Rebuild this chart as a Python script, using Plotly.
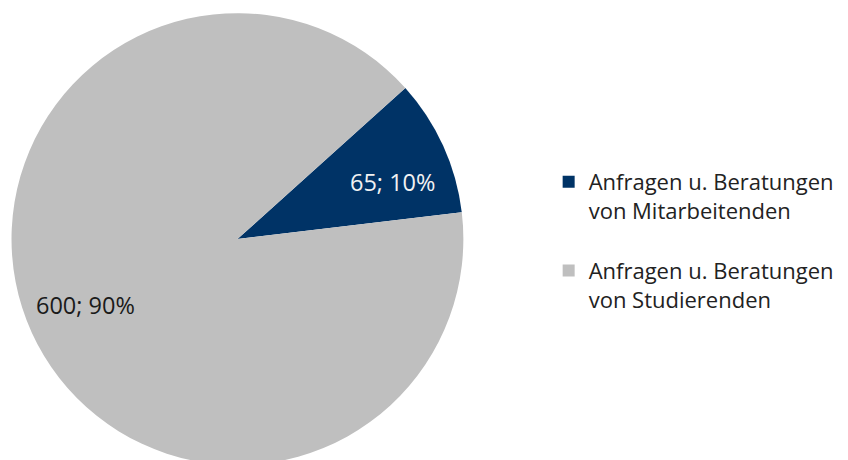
import math
import plotly.graph_objects as go

labels = ["Anfragen u. Beratungen<br>von Mitarbeitenden<br> ", "Anfragen u. Beratungen<br>von Studierenden<br> "]
values = [65, 600]
colors = ["#003366", "#BFBFBF"]
text_colors = ["#F2F2F2", "#1A1A1A"]

FONT = "Open Sans"
W, H = 848, 470
ROT = 48
DOM_X = [0, 0.56]
DOM_Y = [0.0106, 0.972]
LABEL_R = [0.73, 0.735]      # label distance as fraction of radius
LABEL_DANG = [4.0, 1.0]      # angular nudge (deg) from slice bisector

fig = go.Figure(go.Pie(
    labels=labels,
    values=values,
    sort=False,
    direction="clockwise",
    rotation=ROT,
    marker=dict(colors=colors, line=dict(width=0)),
    textinfo="none",
    hoverinfo="value+percent",
    domain=dict(x=DOM_X, y=DOM_Y),
))

total = sum(values)
dw = (DOM_X[1] - DOM_X[0]) * W
dh = (DOM_Y[1] - DOM_Y[0]) * H
r = min(dw, dh) / 2
cx = (DOM_X[0] * W) + dw / 2
cy = (1 - DOM_Y[1]) * H + dh / 2
start = ROT
for i, v in enumerate(values):
    span = 360 * v / total
    mid = math.radians(start + span / 2 + LABEL_DANG[i])
    start += span
    px = cx + LABEL_R[i] * r * math.sin(mid)
    py = cy - LABEL_R[i] * r * math.cos(mid)
    fig.add_annotation(
        x=px / W, y=1 - py / H, xref="paper", yref="paper",
        text=f"{v}; {round(100 * v / total)}%",
        showarrow=False, xanchor="center", yanchor="middle",
        font=dict(family=FONT, size=23.5, color=text_colors[i]),
    )

fig.update_layout(
    width=W, height=H,
    margin=dict(l=0, r=0, t=0, b=0),
    paper_bgcolor="white", plot_bgcolor="white",
    font=dict(family=FONT, size=22, color="#222222"),
    legend=dict(x=0.647, y=1 - 161 / H, xanchor="left", yanchor="top",
                valign="top",
                font=dict(family=FONT, size=22, color="#222222")),
    showlegend=True,
)

fig.write_html("out.html", config={"displayModeBar": False},
               post_script="document.body.style.margin='0';document.body.style.overflow='hidden';")
